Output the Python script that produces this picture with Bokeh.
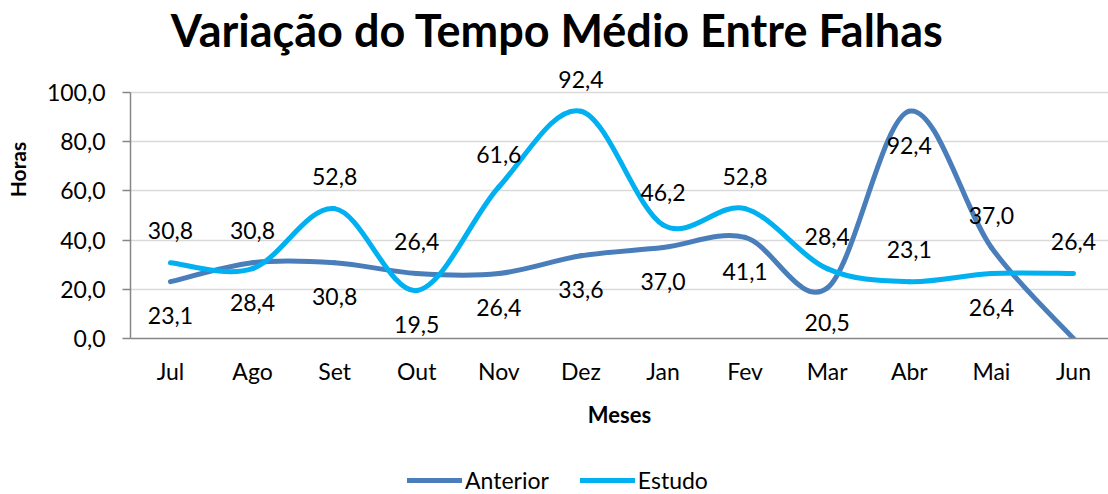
from bokeh.plotting import figure
from bokeh.layouts import column
from bokeh.models import (ColumnDataSource, LabelSet, Label, Legend, LegendItem,
                          FixedTicker, Range1d)
from bokeh.core.properties import value
from bokeh.embed import file_html
from bokeh.resources import INLINE

# ---------------- data ----------------
months = ["Jul", "Ago", "Set", "Out", "Nov", "Dez", "Jan", "Fev", "Mar", "Abr", "Mai", "Jun"]
anterior = [23.1, 30.8, 30.8, 26.4, 26.4, 33.6, 37.0, 41.1, 20.5, 92.4, 37.0, 0.0]
estudo = [30.8, 28.4, 52.8, 19.5, 61.6, 92.4, 46.2, 52.8, 28.4, 23.1, 26.4, 26.4]
anterior_label_side = ["below", "above", "below", "above", "below", "below",
                       "below", "below", "below", "below", "above", None]
estudo_label_side = ["above", "below", "above", "below", "above", "above",
                     "above", "above", "above", "above", "below", "above"]
series_names = ["Anterior", "Estudo"]
y_ticks = [0, 20, 40, 60, 80, 100]

C_ANT = "#4A7EBB"
C_EST = "#00B0F0"
FONT = "Lato"

# ---------------- layout (pixels) ----------------
W = 1108
H_MAIN = 430
H_LEG = 64
PLOT_LEFT = 130          # y axis line
Y100_PX = 92             # pixel row of the 100 gridline
Y0_PX = 338              # pixel row of the x axis
FRAME_H = Y0_PX          # frame runs from top of canvas to x axis
y_end = 100 * FRAME_H / (Y0_PX - Y100_PX)


def fmt(v):
    return f"{v:.1f}".replace(".", ",")


def bezier_source(ys):
    """Excel-like smoothed line: cubic Bezier segments (Catmull-Rom control points)."""
    n = len(ys)
    xs = list(range(n))
    d = dict(x0=[], y0=[], x1=[], y1=[], cx0=[], cy0=[], cx1=[], cy1=[])
    for i in range(n - 1):
        a = max(i - 1, 0)
        b = min(i + 2, n - 1)
        d["x0"].append(xs[i]); d["y0"].append(ys[i])
        d["x1"].append(xs[i + 1]); d["y1"].append(ys[i + 1])
        d["cx0"].append(xs[i] + (xs[i + 1] - xs[a]) / 6)
        d["cy0"].append(ys[i] + (ys[i + 1] - ys[a]) / 6)
        d["cx1"].append(xs[i + 1] - (xs[b] - xs[i]) / 6)
        d["cy1"].append(ys[i + 1] - (ys[b] - ys[i]) / 6)
    return ColumnDataSource(d)


def label_source(ys, sides):
    xs, yv, txt, off = [], [], [], []
    for i, (v, s) in enumerate(zip(ys, sides)):
        if s is None:
            continue
        xs.append(i); yv.append(v); txt.append(fmt(v))
        off.append(32 if s == "above" else -34)
    return ColumnDataSource(dict(x=xs, y=yv, text=txt, off=off))


p = figure(width=W, height=H_MAIN, output_backend="svg", toolbar_location=None,
           x_range=Range1d(-0.487, 11.427), y_range=Range1d(0, y_end),
           min_border_left=PLOT_LEFT, min_border_right=0, min_border_top=0,
           min_border_bottom=H_MAIN - Y0_PX)
p.outline_line_color = None
p.background_fill_color = "white"
p.border_fill_color = "white"

# grid
p.xgrid.grid_line_color = None
p.ygrid.ticker = FixedTicker(ticks=y_ticks)
p.ygrid.grid_line_color = "#D9D9D9"
p.ygrid.grid_line_width = 1.5

# y axis
ya = p.yaxis[0]
ya.ticker = FixedTicker(ticks=y_ticks)
ya.bounds = (0, 100)
ya.major_label_overrides = {t: fmt(t) for t in y_ticks}
ya.axis_line_color = "#868686"
ya.axis_line_width = 1.5
ya.major_tick_line_color = "#868686"
ya.major_tick_line_width = 1.5
ya.major_tick_out = 8
ya.major_tick_in = 0
ya.minor_tick_line_color = None
ya.major_label_standoff = 17
ya.major_label_text_font = FONT
ya.major_label_text_font_size = "23px"
ya.major_label_text_color = "black"
ya.axis_label = "Horas"
ya.axis_label_text_font = FONT
ya.axis_label_text_font_style = "bold"
ya.axis_label_text_font_size = "21px"
ya.axis_label_text_color = "black"
ya.axis_label_standoff = 14

# x axis
xa = p.xaxis[0]
xa.ticker = FixedTicker(ticks=list(range(len(months))))
xa.major_label_overrides = {i: m for i, m in enumerate(months)}
xa.axis_line_color = "#868686"
xa.axis_line_width = 1.5
xa.major_tick_line_color = None
xa.major_tick_out = 0
xa.major_tick_in = 0
xa.minor_tick_line_color = None
xa.major_label_standoff = 18
xa.major_label_text_font = FONT
xa.major_label_text_font_size = "23px"
xa.major_label_text_color = "black"
xa.axis_label = "Meses"
xa.axis_label_text_font = FONT
xa.axis_label_text_font_style = "bold"
xa.axis_label_text_font_size = "22px"
xa.axis_label_text_color = "black"
xa.axis_label_standoff = 13

# smoothed series
p.bezier(x0="x0", y0="y0", x1="x1", y1="y1", cx0="cx0", cy0="cy0",
         cx1="cx1", cy1="cy1", source=bezier_source(anterior),
         line_color=C_ANT, line_width=5, line_cap="round")
p.bezier(x0="x0", y0="y0", x1="x1", y1="y1", cx0="cx0", cy0="cy0",
         cx1="cx1", cy1="cy1", source=bezier_source(estudo),
         line_color=C_EST, line_width=5, line_cap="round")

# data labels
for ys, sides in ((anterior, anterior_label_side), (estudo, estudo_label_side)):
    ls = LabelSet(x="x", y="y", text="text", y_offset="off", source=label_source(ys, sides),
                  text_align="center", text_baseline="middle",
                  text_font=value(FONT), text_font_size=value("23px"),
                  text_color="black")
    p.add_layout(ls)

# title (frame-relative screen units)
p.add_layout(Label(x=557 - PLOT_LEFT, y=Y0_PX - 29, x_units="screen", y_units="screen",
                   text="Variação do Tempo Médio Entre Falhas",
                   text_align="center", text_baseline="alphabetic",
                   text_font=FONT, text_font_style="bold", text_font_size="45px",
                   text_color="black"))

# ---------------- legend strip below the chart ----------------
# (its frame is aligned with the main frame by the column layout)
pl = figure(width=W, height=H_LEG, output_backend="svg", toolbar_location=None,
            x_range=Range1d(-2, -1), y_range=Range1d(0, H_LEG),
            min_border=0, x_axis_type=None, y_axis_type=None)
pl.outline_line_color = None
pl.xgrid.visible = False
pl.ygrid.visible = False
# legend-key renderers: their data lies outside the strip's view, only the keys show
r_a = pl.line(x=[0, 1], y=[0, 0], line_color=C_ANT, line_width=5, line_cap="round")
r_e = pl.line(x=[0, 1], y=[0, 0], line_color=C_EST, line_width=5, line_cap="round")
legend = Legend(items=[LegendItem(label=series_names[0], renderers=[r_a]),
                       LegendItem(label=series_names[1], renderers=[r_e])],
                orientation="horizontal", location=(407 - PLOT_LEFT, 0),
                glyph_width=55, glyph_height=20, label_standoff=3, spacing=31,
                padding=0, margin=0, border_line_color=None,
                background_fill_alpha=0,
                label_text_font=FONT, label_text_font_size="23px",
                label_text_color="black")
pl.add_layout(legend)

open("out.html", "w").write(file_html(column(p, pl, spacing=0), INLINE))
